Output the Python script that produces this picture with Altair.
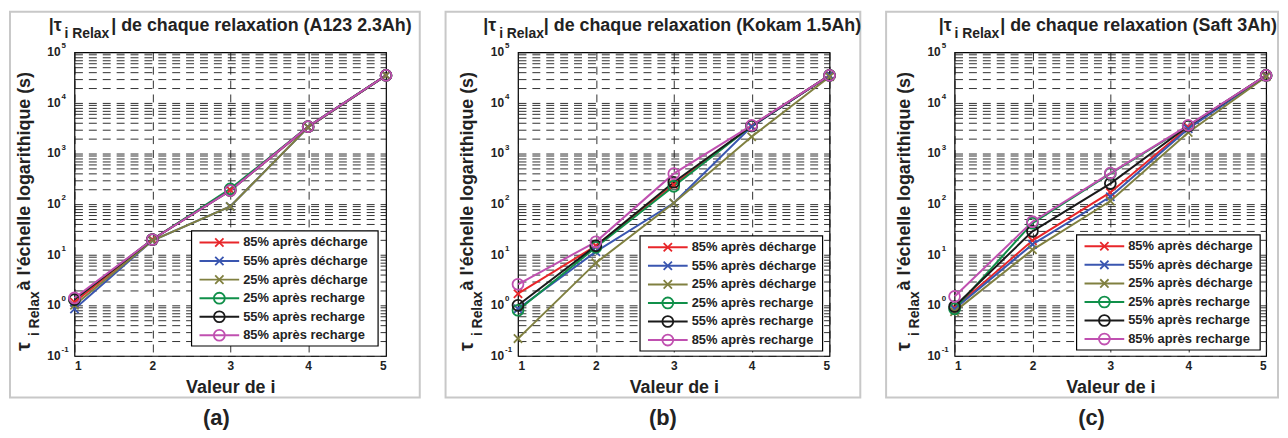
import altair as alt
import pandas as pd

# ---------------- data ----------------
series = ["85% après décharge", "55% après décharge", "25% après décharge",
          "25% après recharge", "55% après recharge", "85% après recharge"]
colors = ["#e8262a", "#3a56b0", "#808040", "#10904a", "#1a1a1a", "#c050b0"]
kinds = ["x", "x", "x", "o", "o", "o"]
i_vals = [1, 2, 3, 4, 5]

# panel (a) A123 2.3Ah
a_85d = [1.15, 20, 190, 3300, 35000]
a_55d = [0.85, 19, 90, 3300, 35000]
a_25d = [1.0, 19, 90, 3300, 35000]
a_25r = [1.3, 20, 200, 3400, 35000]
a_55r = [1.3, 20, 185, 3400, 35000]
a_85r = [1.4, 20, 185, 3400, 35000]

# panel (b) Kokam 1.5Ah
b_85d = [1.7, 15, 240, 3500, 35000]
b_55d = [0.85, 11.5, 105, 3400, 35000]
b_25d = [0.22, 6.9, 105, 2150, 33000]
b_25r = [0.8, 14, 225, 3500, 35000]
b_55r = [1.0, 15, 270, 3500, 35000]
b_85r = [2.6, 18, 400, 3600, 35000]

# panel (c) Saft 3Ah
c_85d = [0.9, 19, 170, 3300, 35000]
c_55d = [0.85, 16, 140, 3100, 34000]
c_25d = [0.75, 12.5, 115, 2600, 33000]
c_25r = [0.85, 42, 400, 3500, 35000]
c_55r = [0.95, 29, 255, 3500, 35000]
c_85r = [1.5, 45, 410, 3600, 35000]

cells = ["A123 2.3Ah", "Kokam 1.5Ah", "Saft 3Ah"]
tags = ["(a)", "(b)", "(c)"]
exponents = [-1, 0, 1, 2, 3, 4, 5]
x_title = "Valeur de i"
y_title_main = "à l'échelle logarithique (s)"

panel_values = [
    [a_85d, a_55d, a_25d, a_25r, a_55r, a_85r],
    [b_85d, b_55d, b_25d, b_25r, b_55r, b_85r],
    [c_85d, c_55d, c_25d, c_25r, c_55r, c_85r],
]

# ---------------- layout / style ----------------
FONT = "Liberation Sans"
TXT = "#222222"
W, H = 314, 306
XPATH = "M-1,-1L1,1M-1,1L1,-1"
layout = [
    dict(frame=(-65, 348, -41, 348), t=(-26, -10, 37), tag=143,
         box=(118, 306, 180, 296), row0=191.7, drow=18.7),
    dict(frame=(-73, 345, -41, 348), t=(-35, -19, 26), tag=146,
         box=(123, 307, 185, 301), row0=196.5, drow=18.7),
    dict(frame=(-69, 326, -41, 348), t=(-16, 0, 46), tag=138,
         box=(123, 308, 184, 300), row0=195.5, drow=18.7),
]

minor_vals = [m * 10.0 ** k for k in range(-1, 5) for m in range(1, 10)] + [1e5]

cscale = alt.Scale(domain=series, range=colors)
yscale = alt.Scale(type="log", domain=[0.1, 1e5], nice=False)
xscale = alt.Scale(domain=[1, 5], nice=False, zero=False)
one = pd.DataFrame({"d": [0]})

GRID = dict(grid=True, gridDash=[8, 6], gridColor="#1a1a1a", gridWidth=0.9)
yaxis = alt.Axis(values=minor_vals, labels=False, ticks=False, domain=False,
                 title=None, **GRID)
xaxis = alt.Axis(values=i_vals, labelFont=FONT, labelFontSize=12, labelFontWeight="bold",
                 labelColor=TXT, labelPadding=5, ticks=False, domain=False, format="d",
                 title=x_title, titleFont=FONT, titleFontSize=18, titleFontWeight="bold",
                 titleColor=TXT, titlePadding=7, **GRID)


def panel(p):
    vals = panel_values[p]
    L = layout[p]
    rows = []
    for s_idx, (s, k) in enumerate(zip(series, kinds)):
        for i, v in zip(i_vals, vals[s_idx]):
            rows.append({"i": i, "value": v, "serie": s, "kind": k, "ord": s_idx})
    df = pd.DataFrame(rows)
    leg = pd.DataFrame({"serie": series, "kind": kinds,
                        "py": [L["row0"] + r * L["drow"] for r in range(6)]})
    lab = pd.DataFrame({"value": [10.0 ** e for e in exponents],
                        "exp": [str(e) for e in exponents]})

    X = alt.X("i:Q", scale=xscale, axis=xaxis)
    Y = alt.Y("value:Q", scale=yscale, axis=yaxis)
    C = alt.Color("serie:N", scale=cscale, legend=None)

    lines = alt.Chart(df).mark_line(strokeWidth=2).encode(
        x=X, y=Y, color=C, order=alt.Order("i:Q"))
    crosses = alt.Chart(df).transform_filter(alt.datum.kind == "x").mark_point(
        shape=XPATH, size=70, strokeWidth=1.8, filled=False, opacity=1).encode(
        x=X, y=Y, color=C)
    circles = alt.Chart(df).transform_filter(alt.datum.kind == "o").mark_point(
        shape="circle", size=120, strokeWidth=1.8, filled=False, opacity=1).encode(
        x=X, y=Y, color=C)
    lab10 = alt.Chart(lab).mark_text(align="right", baseline="middle", font=FONT,
                                     fontSize=12, fontWeight="bold", color=TXT,
                                     text="10").encode(x=alt.value(-14), y=Y)
    labexp = alt.Chart(lab).mark_text(align="left", baseline="middle", font=FONT,
                                      fontSize=8, fontWeight="bold", color=TXT, dy=-6).encode(
        x=alt.value(-13), y=Y, text="exp:N")

    bx0, bx1, by0, by1 = L["box"]
    LY = alt.Y("py:Q", scale=None, axis=None)
    lbox = alt.Chart(one).mark_rect(fill="white", stroke="black", strokeWidth=1.2).encode(
        x=alt.value(bx0), x2=alt.value(bx1), y=alt.value(by0), y2=alt.value(by1))
    lx0 = bx0 + 8
    lrule = alt.Chart(leg).mark_rule(strokeWidth=2).encode(
        x=alt.value(lx0), x2=alt.value(lx0 + 40), y=LY, color=C)
    lcross = alt.Chart(leg).transform_filter(alt.datum.kind == "x").mark_point(
        shape=XPATH, size=70, strokeWidth=1.8, filled=False, opacity=1).encode(
        x=alt.value(lx0 + 20), y=LY, color=C)
    lcirc = alt.Chart(leg).transform_filter(alt.datum.kind == "o").mark_point(
        shape="circle", size=120, strokeWidth=1.8, filled=False, opacity=1).encode(
        x=alt.value(lx0 + 20), y=LY, color=C)
    ltext = alt.Chart(leg).mark_text(align="left", baseline="middle", font=FONT,
                                     fontSize=13, fontWeight="bold", color=TXT).encode(
        x=alt.value(lx0 + 44), y=LY, text="serie:N")

    fx0, fx1, fy0, fy1 = L["frame"]
    frame = alt.Chart(one).mark_rect(fill="transparent", stroke="#c8c8c8",
                                     strokeWidth=2).encode(
        x=alt.value(fx0), x2=alt.value(fx1), y=alt.value(fy0), y2=alt.value(fy1))

    t0, t1, t2 = L["t"]

    def txt(text, x, y, size, angle=0, align="left", baseline="alphabetic"):
        return alt.Chart(one).mark_text(text=text, font=FONT, fontSize=size,
                                        fontWeight="bold", color=TXT, angle=angle,
                                        align=align, baseline=baseline).encode(
            x=alt.value(x), y=alt.value(y))

    title = [
        txt("|τ", t0, -21, 18),
        txt("i Relax", t1, -14, 14),
        txt("| de chaque relaxation (" + cells[p] + ")", t2, -21, 18),
    ]
    ytitle = [
        txt("τ", -45, 301, 20, angle=270),
        txt("i Relax", -36, 286, 14, angle=270),
        txt(y_title_main, -45, 240, 18, angle=270),
    ]
    tag = txt(tags[p], L["tag"], 369, 22, align="center", baseline="middle")

    return alt.layer(frame, lines, crosses, circles, lab10, labexp,
                     lbox, lrule, lcross, lcirc, ltext,
                     *title, *ytitle, tag).properties(width=W, height=H)


chart = alt.HConcatChart(hconcat=[panel(0), panel(1), panel(2)], spacing=22,
                         padding=0, background="white").configure_view(
    stroke="black", strokeWidth=1.2)

chart.save("out.html", embed_options={"renderer": "svg", "actions": False})
